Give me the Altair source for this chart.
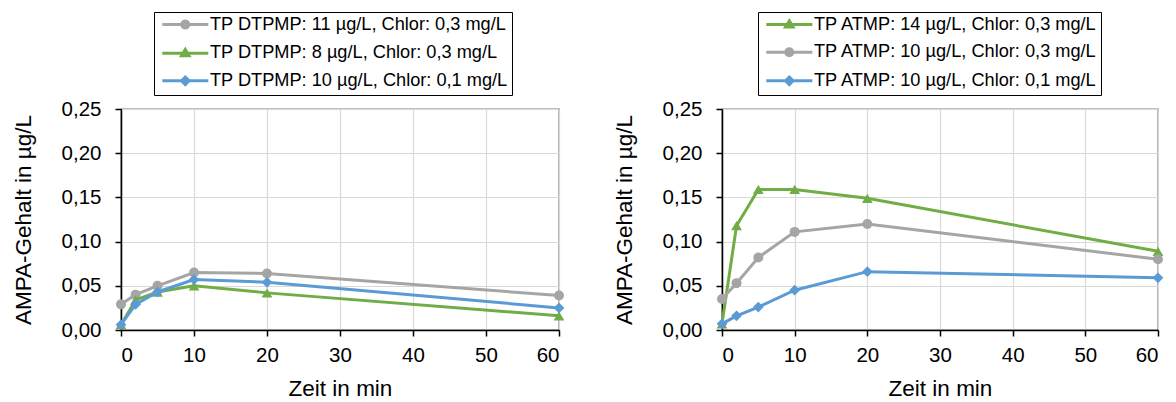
import altair as alt
import pandas as pd

zeit = [0, 2, 5, 10, 20, 60]

dtpmp_labels = ["TP DTPMP: 11 µg/L, Chlor: 0,3 mg/L",
                "TP DTPMP: 8 µg/L, Chlor: 0,3 mg/L",
                "TP DTPMP: 10 µg/L, Chlor: 0,1 mg/L"]
dtpmp_11_03 = [0.029, 0.040, 0.050, 0.065, 0.064, 0.039]
dtpmp_8_03 = [0.006, 0.034, 0.043, 0.050, 0.042, 0.016]
dtpmp_10_01 = [0.006, 0.029, 0.043, 0.057, 0.054, 0.025]

atmp_labels = ["TP ATMP: 14 µg/L, Chlor: 0,3 mg/L",
               "TP ATMP: 10 µg/L, Chlor: 0,3 mg/L",
               "TP ATMP: 10 µg/L, Chlor: 0,1 mg/L"]
atmp_14_03 = [0.007, 0.118, 0.159, 0.159, 0.149, 0.089]
atmp_10_03 = [0.035, 0.053, 0.082, 0.111, 0.120, 0.080]
atmp_10_01 = [0.007, 0.016, 0.026, 0.045, 0.066, 0.059]

x_ticks = [0, 10, 20, 30, 40, 50, 60]
y_ticks = [0, 0.05, 0.10, 0.15, 0.20, 0.25]

GRAY, GREEN, BLUE = "#A5A5A5", "#70AD47", "#5B9BD5"
FONT = "Liberation Sans"

LINE = "M-4.6,0L4.6,0"
PATHS = {
    "circle": LINE + "M0.7,0A0.7,0.7,0,1,1,-0.7,0A0.7,0.7,0,1,1,0.7,0Z",
    "triangle-up": LINE + "M0,-0.75L0.75,0.5L-0.75,0.5Z",
    "diamond": LINE + "M0,-0.75L0.75,0L0,0.75L-0.75,0Z",
}
SIZES = {"circle": 100, "triangle-up": 115, "diamond": 115}

LEG_FS = 18.2


def panel(labels, series, colors, shapes, legend_x, width):
    rows = []
    for lab, vals in zip(labels, series):
        for t, v in zip(zeit, vals):
            rows.append({"zeit": t, "wert": v, "serie": lab})
    df = pd.DataFrame(rows)
    x = alt.X("zeit:Q", scale=alt.Scale(domain=[0, 60], nice=False),
              axis=alt.Axis(values=x_ticks, title="Zeit in min", format="d"))
    y = alt.Y("wert:Q", scale=alt.Scale(domain=[0, 0.25], nice=False),
              axis=alt.Axis(values=y_ticks, title="AMPA-Gehalt in µg/L",
                            labelExpr="replace(format(datum.value, '.2f'), '.', ',')"))
    layers = []
    for lab, col, shp in zip(labels, colors, shapes):
        base = alt.Chart(df).transform_filter(alt.datum.serie == lab)
        layers.append(base.mark_line(color=col, strokeWidth=3).encode(x=x, y=y))
        layers.append(base.mark_point(filled=True, opacity=1, color=col, shape=shp,
                                      size=SIZES[shp]).encode(x=x, y=y))
    leg = alt.Legend(title=None, orient="none", legendX=legend_x, legendY=-97,
                     strokeColor="black", fillColor="white", padding=3.5,
                     labelFont=FONT, labelFontSize=LEG_FS, labelColor="black",
                     labelLimit=600, symbolSize=100, symbolStrokeWidth=3,
                     symbolOffset=18.7, labelOffset=15.6, rowPadding=8.6)
    legend_layer = alt.Chart(df).transform_filter("false").mark_point(
        filled=True, opacity=1, strokeWidth=3).encode(
        x=x, y=y,
        fill=alt.Fill("serie:N", scale=alt.Scale(domain=labels, range=colors), legend=leg),
        stroke=alt.Stroke("serie:N", scale=alt.Scale(domain=labels, range=colors), legend=leg),
        shape=alt.Shape("serie:N", scale=alt.Scale(domain=labels, range=[PATHS[s] for s in shapes]),
                        legend=leg),
    )
    return alt.layer(*layers, legend_layer).properties(width=width, height=221)


left = panel(dtpmp_labels, [dtpmp_11_03, dtpmp_8_03, dtpmp_10_01],
             [GRAY, GREEN, BLUE], ["circle", "triangle-up", "diamond"], 33, 438)
right = panel(atmp_labels, [atmp_14_03, atmp_10_03, atmp_10_01],
              [GREEN, GRAY, BLUE], ["triangle-up", "circle", "diamond"], 36, 436)

chart = alt.hconcat(left, right, spacing=46).resolve_scale(
    fill="independent", stroke="independent", shape="independent"
).resolve_legend(
    fill="independent", stroke="independent", shape="independent"
).properties(
    padding={"left": 3, "top": 2, "right": 0, "bottom": 0}
).configure_view(
    stroke="black", strokeWidth=1.2
).configure_axis(
    domainColor="black", domainWidth=1.5, tickColor="black", tickWidth=1.5, tickSize=6,
    gridColor="#d9d9d9", gridWidth=1.2,
    labelFont=FONT, labelFontSize=20.5, labelColor="black",
    titleFont=FONT, titleFontSize=22.5, titleFontWeight="normal", titleColor="black",
).configure_axisX(
    labelPadding=9, titlePadding=12
).configure_axisY(
    labelPadding=14, titlePadding=26
)

chart.save("out.html", embed_options={"renderer": "svg", "actions": False})
